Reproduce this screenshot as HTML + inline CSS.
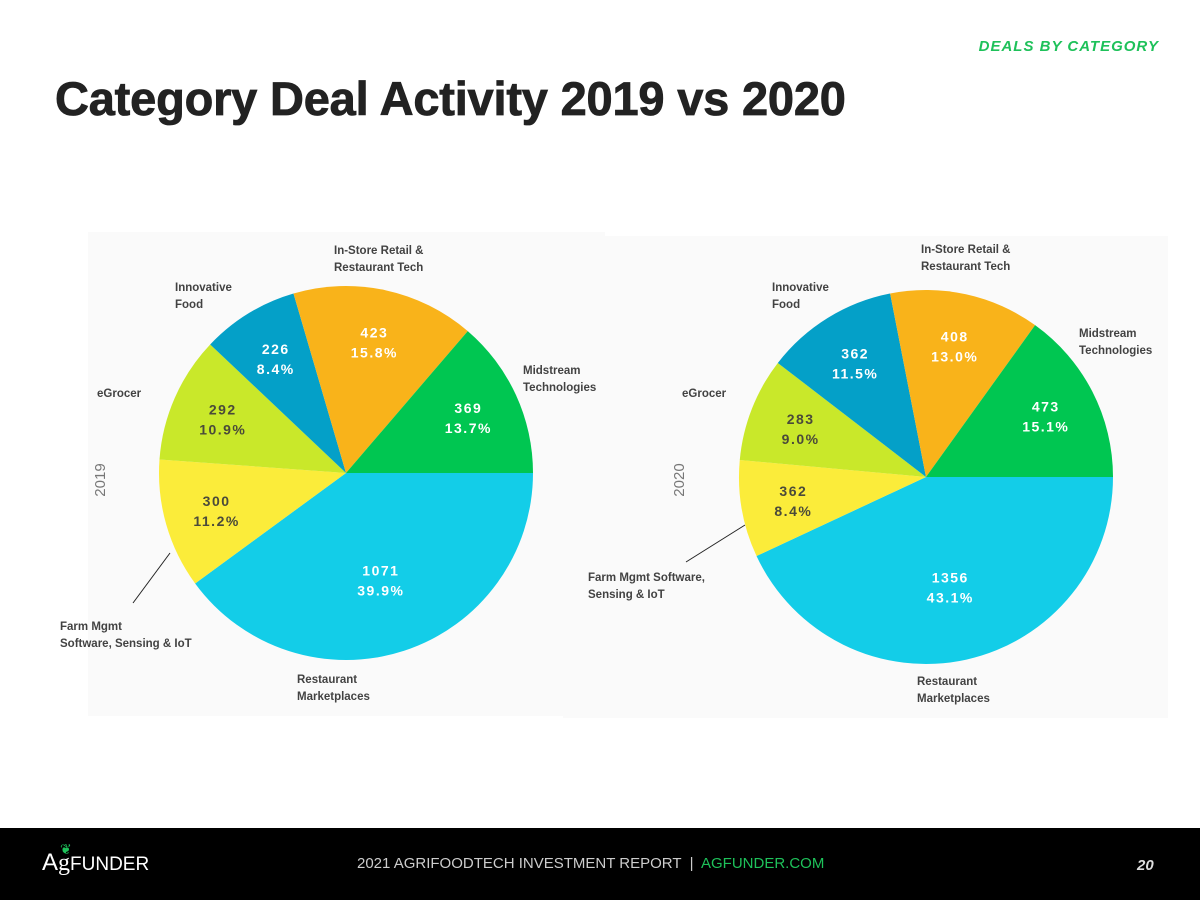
<!DOCTYPE html>
<html><head><meta charset="utf-8"><style>
body{margin:0;width:1200px;height:900px;background:#fff;font-family:"Liberation Sans",sans-serif;position:relative;overflow:hidden}
.t{position:absolute}
.lbl{position:absolute;font-size:11.5px;color:#222;line-height:17px;font-family:"Liberation Sans",sans-serif;font-weight:bold;opacity:0.85}
</style></head><body>
<div class="t" style="right:41px;top:38px;font-size:15px;font-weight:bold;font-style:italic;color:#1ec15a;letter-spacing:1px">DEALS BY CATEGORY</div>
<div class="t" style="left:55px;top:71px;font-size:47px;font-weight:bold;color:#222;letter-spacing:-0.2px;-webkit-text-stroke:0.8px #222">Category Deal Activity 2019 vs 2020</div>
<div class="t" style="left:88px;top:232px;width:517px;height:484px;background:#fafafa"></div>
<div class="t" style="left:563px;top:236px;width:605px;height:482px;background:#fafafa"></div>
<svg id="svg" width="1200" height="900" style="position:absolute;left:0;top:0">
<line x1="133" y1="603" x2="170" y2="553" stroke="#222" stroke-width="1"/>
<line x1="686" y1="562" x2="745" y2="525" stroke="#222" stroke-width="1"/>
<text x="105" y="480" transform="rotate(-90 105 480)" font-size="15" fill="#777" text-anchor="middle" font-family="Liberation Sans">2019</text>
<text x="684" y="480" transform="rotate(-90 684 480)" font-size="15" fill="#777" text-anchor="middle" font-family="Liberation Sans">2020</text>
</svg>
<div class="lbl" style="left:334px;top:243px">In-Store Retail &amp;<br>Restaurant Tech</div>
<div class="lbl" style="left:175px;top:280px">Innovative<br>Food</div>
<div class="lbl" style="left:523px;top:363px">Midstream<br>Technologies</div>
<div class="lbl" style="left:97px;top:386px">eGrocer</div>
<div class="lbl" style="left:60px;top:619px">Farm Mgmt<br>Software, Sensing &amp; IoT</div>
<div class="lbl" style="left:297px;top:672px">Restaurant<br>Marketplaces</div>
<div class="lbl" style="left:921px;top:242px">In-Store Retail &amp;<br>Restaurant Tech</div>
<div class="lbl" style="left:772px;top:280px">Innovative<br>Food</div>
<div class="lbl" style="left:1079px;top:326px">Midstream<br>Technologies</div>
<div class="lbl" style="left:682px;top:386px">eGrocer</div>
<div class="lbl" style="left:588px;top:570px">Farm Mgmt Software,<br>Sensing &amp; IoT</div>
<div class="lbl" style="left:917px;top:674px">Restaurant<br>Marketplaces</div>
<div class="t" style="left:0;top:828px;width:1200px;height:72px;background:#000"></div>
<div class="t" style="left:42px;top:849px;color:#fff;font-size:19px"><span style="font-size:24px">A</span><span style="font-family:'Liberation Serif',serif;font-size:24px">g</span><span style="position:absolute;left:18px;top:-8px;color:#1ec15a;font-size:14px">❦</span>FUNDER</div>
<div class="t" style="left:357px;top:855px;font-size:15px;color:#ccc">2021 AGRIFOODTECH INVESTMENT REPORT &nbsp;|&nbsp; <span style="color:#1ec15a">AGFUNDER.COM</span></div>
<div class="t" style="left:1137px;top:857px;font-size:15px;font-weight:bold;font-style:italic;color:#ddd">20</div>
<script>
const categories=["Restaurant Marketplaces","Farm Mgmt Software","eGrocer","Innovative Food","In-Store Retail","Midstream"];
const colors=["#13cde8","#fbec3a","#c9e82a","#04a0c8","#f9b31a","#00c651"];
const textColors=["#fff","#4a4a3a","#4a4a3a","#fff","#fff","#fff"];
const counts2019=[1071,300,292,226,423,369];
const pct2019=[39.9,11.2,10.9,8.4,15.8,13.7];
const counts2020=[1356,362,283,362,408,473];
const pct2020=[43.1,8.4,9.0,11.5,13.0,15.1];
const svg=document.getElementById('svg');
const NS='http://www.w3.org/2000/svg';
function pie(cx,cy,r,counts,pct,yr){
  const tot=pct.reduce((a,b)=>a+b,0);let a0=0;
  pct.forEach((p,i)=>{
    const a1=a0+p/tot*2*Math.PI;
    const x0=cx+r*Math.cos(a0),y0=cy+r*Math.sin(a0),x1=cx+r*Math.cos(a1),y1=cy+r*Math.sin(a1);
    const path=document.createElementNS(NS,'path');
    path.setAttribute('d',`M${cx},${cy}L${x0},${y0}A${r},${r} 0 ${a1-a0>Math.PI?1:0} 1 ${x1},${y1}Z`);
    path.setAttribute('fill',colors[i]);
    
    
    svg.appendChild(path);
    const m=(a0+a1)/2,rr=r*(i==0?0.6:0.72);
    const tx=cx+rr*Math.cos(m),ty=cy+rr*Math.sin(m);
    [[counts[i],-4],[pct[i].toFixed(1)+'%',16]].forEach(([s,dy])=>{
      const t=document.createElementNS(NS,'text');
      t.setAttribute('x',tx);t.setAttribute('y',ty+dy);
      t.setAttribute('text-anchor','middle');t.setAttribute('font-size','14');
      t.setAttribute('font-weight','bold');t.setAttribute('letter-spacing','1.5');
      t.setAttribute('fill',textColors[i]);t.setAttribute('font-family','Liberation Sans');
      
      
      t.textContent=s;svg.appendChild(t);
    });
    a0=a1;
  });
}
pie(346,473,187,counts2019,pct2019,'2019');
pie(926,477,187,counts2020,pct2020,'2020');
</script>
</body></html>
